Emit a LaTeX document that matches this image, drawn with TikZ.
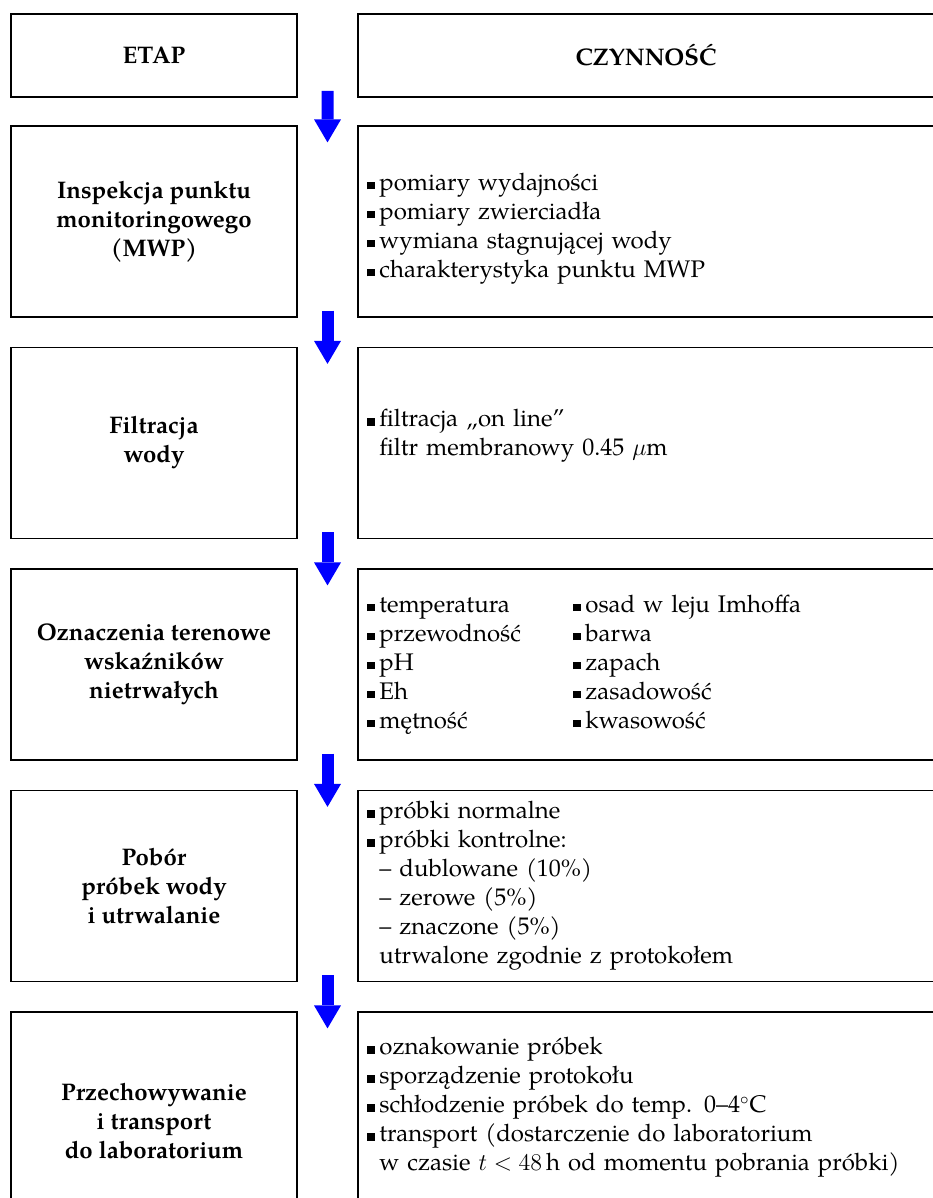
\documentclass[tikz,border=0pt]{standalone}
\usepackage{fontspec}
\setmainfont{TeX Gyre Pagella}
\usepackage{tikz}
\usetikzlibrary{arrows.meta,calc}

\newcommand\rozm{\fontsize{12pt}{14.5pt}\selectfont}
\newcommand\pkt{\rule[0.6pt]{3.8pt}{3.8pt}\hspace{2.4pt}}
\newcommand\wc{\hphantom{\pkt}}

\begin{document}
\begin{tikzpicture}[
  x=0.5pt,y=-0.5pt,
  font=\rozm,
  hd/.style={draw,line width=1pt,minimum height=41.5pt,inner sep=0pt,font=\rozm\bfseries},
  et/.style={draw,line width=0.6pt,align=center,minimum width=143pt,
             minimum height=95.5pt,inner sep=2pt,font=\rozm\bfseries},
  cz/.style={draw,line width=0.6pt,align=left,text width=279pt,inner xsep=4.5pt,
             minimum height=95.5pt},
  ar/.style={blue,line width=6pt,-{Triangle[width=13.5pt,length=11.5pt,line width=0pt]}}]

\useasboundingbox (0,0) rectangle (932,1198);

% naglowki
\node[hd,minimum width=143pt] (e0) at (154,55.5) {ETAP};
\node[hd,minimum width=288pt] (c0) at (646,55.5) {CZYNNOŚĆ};

% etapy (lewa kolumna)
\node[et] (e1) at (154,221.5) {Inspekcja punktu\\monitoringowego\\(MWP)};
\node[et] (e2) at (154,443) {Filtracja\\wody};
\node[et] (e3) at (154,664.5) {Oznaczenia terenowe\\wskaźników\\nietrwałych};
\node[et] (e4) at (154,886) {Pobór\\próbek wody\\i utrwalanie};
\node[et,minimum height=109pt] (e5) at (154,1121) {Przechowywanie\\i transport\\do laboratorium};

% czynnosci (prawa kolumna)
\node[cz] (c1) at (646,221.5) {\mbox{}\\[1.5pt]\pkt pomiary wydajności\\\pkt pomiary zwierciadła\\
  \pkt wymiana stagnującej wody\\\pkt charakterystyka punktu MWP};
\node[cz] (c2) at (646,443) {\pkt filtracja „on line”\\\wc filtr membranowy 0.45~$\mu$m\\[-4pt]\mbox{}};
\node[cz] (c3) at (646,664.5) {\begin{tabular}{@{}p{103pt}@{}l@{}}
  \pkt temperatura & \pkt osad w leju Imhoffa\\
  \pkt przewodność & \pkt barwa\\
  \pkt pH & \pkt zapach\\
  \pkt Eh & \pkt zasadowość\\
  \pkt mętność & \pkt kwasowość
  \end{tabular}};
\node[cz] (c4) at (646,886) {\pkt próbki normalne\\\pkt próbki kontrolne:\\
  \wc – dublowane (10\%)\\\wc – zerowe (5\%)\\\wc – znaczone (5\%)\\
  \wc utrwalone zgodnie z protokołem};
\node[cz] (c5) at (646,1107.5) {\pkt oznakowanie próbek\\\pkt sporządzenie protokołu\\
  \pkt schłodzenie próbek do temp. 0–4$^\circ$C\\
  \pkt transport (dostarczenie do laboratorium\\
  \wc w czasie $t<48\,$h od momentu pobrania próbki)};

\foreach \i/\j in {0/1,1/2,2/3,3/4,4/5}
  \draw[ar] ($(e\i.south east)!.5!(c\i.south west)+(0,-7)$) -- ($(e\j.north east)!.5!(c\j.north west)+(0,17)$);
\end{tikzpicture}
\end{document}
